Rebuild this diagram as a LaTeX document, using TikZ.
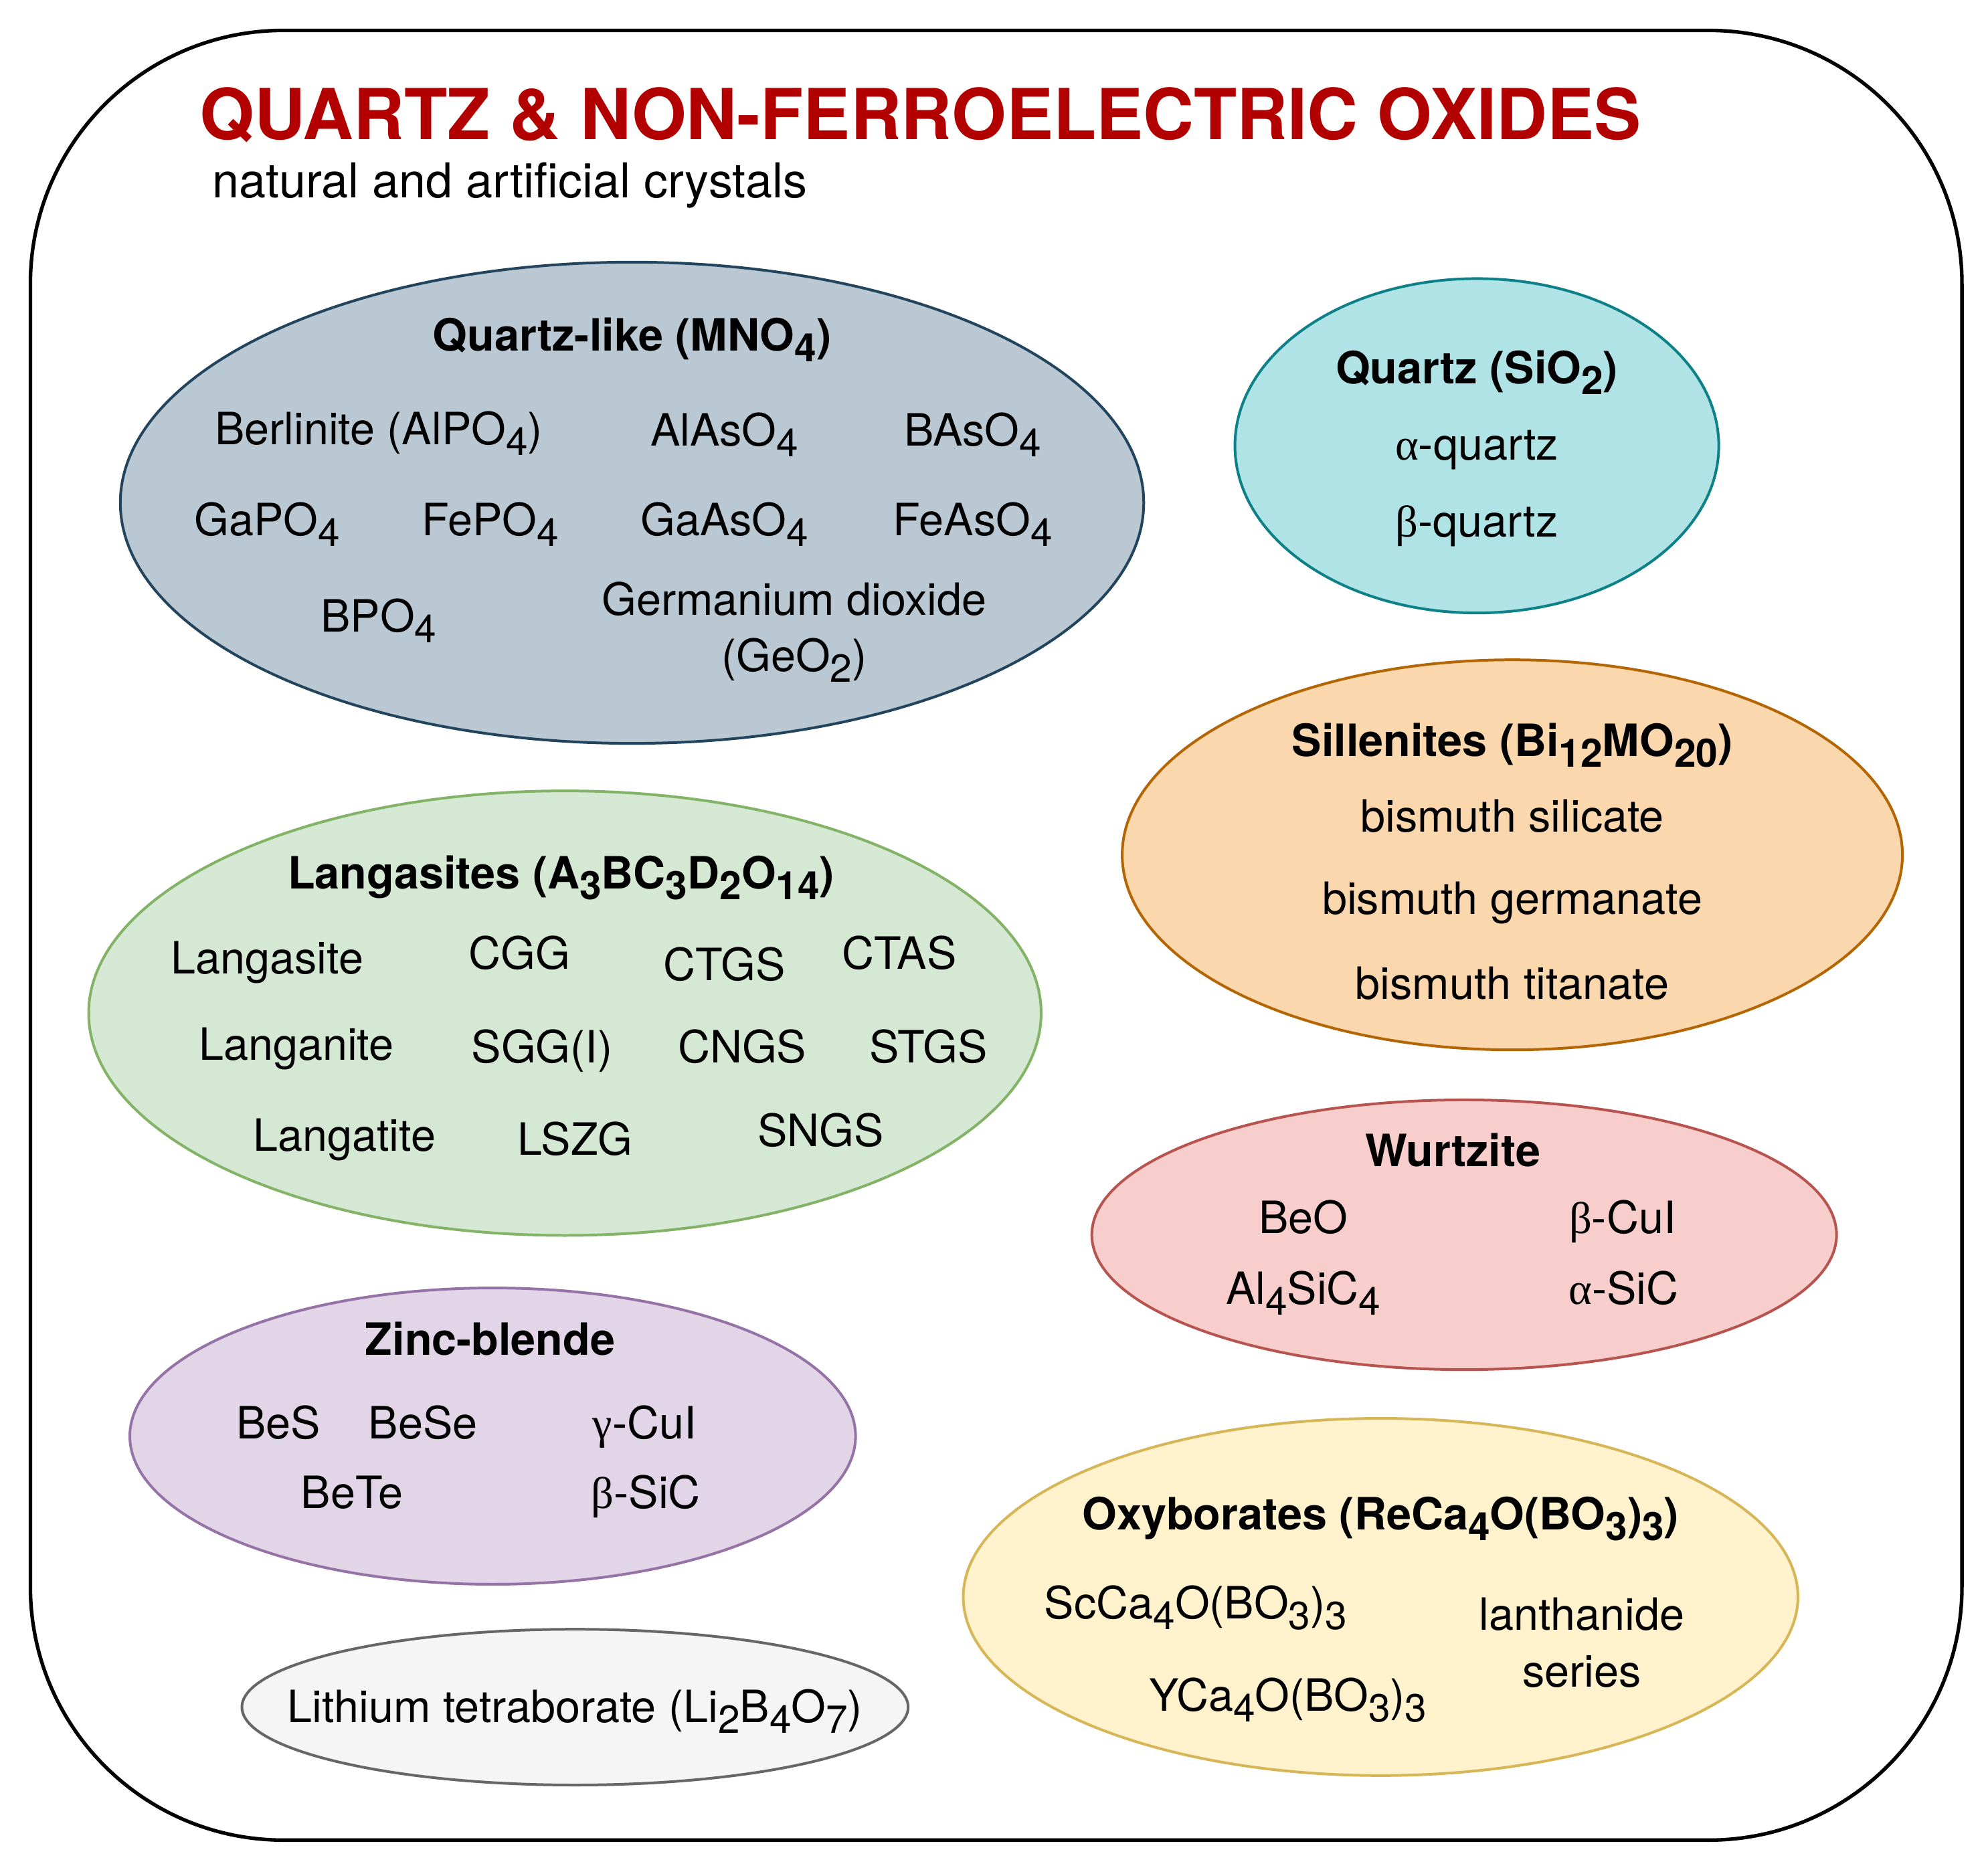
\documentclass[tikz,border=0pt]{standalone}
\usepackage{fontspec}
\setmainfont{TeX Gyre Heros}
\newfontfamily\grk{Liberation Serif}
\usepackage{tikz}
\usetikzlibrary{shapes.geometric}

\definecolor{titlered}{HTML}{B20000}
\definecolor{qlfill}{HTML}{BAC8D3}\definecolor{qlline}{HTML}{23445D}
\definecolor{qzfill}{HTML}{B0E3E6}\definecolor{qzline}{HTML}{0E8088}
\definecolor{slfill}{HTML}{FAD7AC}\definecolor{slline}{HTML}{B46504}
\definecolor{lgfill}{HTML}{D5E8D4}\definecolor{lgline}{HTML}{82B366}
\definecolor{wzfill}{HTML}{F8CECC}\definecolor{wzline}{HTML}{B85450}
\definecolor{zbfill}{HTML}{E1D5E7}\definecolor{zbline}{HTML}{9673A6}
\definecolor{oxfill}{HTML}{FFF2CC}\definecolor{oxline}{HTML}{D6B656}
\definecolor{ltfill}{HTML}{F5F5F5}\definecolor{ltline}{HTML}{666666}

\newcommand{\sub}[1]{\raisebox{-2.4pt}{\fontsize{8.8}{10}\selectfont #1}}

\tikzset{
	group/.style={ellipse, draw, line width=0.6pt, inner sep=0pt},
	head/.style={anchor=base, font=\fontsize{10}{12.7}\selectfont\bfseries},
	item/.style={anchor=base},
	twoline/.style={align=center},
}

\begin{document}
\begin{tikzpicture}[x=1cm, y=-1cm, font=\fontsize{10}{12.7}\selectfont]
		%%%%% START %%%%%
		\useasboundingbox (0, 0) rectangle (15.68, 14.81);
		
		\draw[line width=0.8pt, rounded corners=2cm] (0.24, 0.24) rectangle (15.49, 14.53);
		
		\node[anchor=base west, inner sep=0pt, text=titlered, font=\fontsize{15.8}{19}\selectfont\bfseries] (title) at (1.57, 1.10) {QUARTZ \& NON-FERROELECTRIC OXIDES};
		\node[anchor=base west, inner sep=0pt, font=\fontsize{10.8}{13}\selectfont] (subtitle) at (1.67, 1.56) {natural and artificial crystals};
		
		% quartz-like
		\node[group, fill=qlfill, draw=qlline, minimum width=8.08cm, minimum height=3.80cm] (quartzlike) at (4.99, 3.97) {};
		\node[head] (qlhead) at (4.99, 2.77) {Quartz-like (MNO\sub{4})};
		\node[item] (berlinite) at (2.99, 3.51) {Berlinite (AlPO\sub{4})};
		\node[item] (alaso) at (5.72, 3.52) {AlAsO\sub{4}};
		\node[item] (baso) at (7.68, 3.52) {BAsO\sub{4}};
		\node[item] (gapo) at (2.11, 4.23) {GaPO\sub{4}};
		\node[item] (fepo) at (3.87, 4.23) {FePO\sub{4}};
		\node[item] (gaaso) at (5.72, 4.23) {GaAsO\sub{4}};
		\node[item] (feaso) at (7.68, 4.23) {FeAsO\sub{4}};
		\node[item] (bpo) at (2.99, 4.99) {BPO\sub{4}};
		\node[twoline] (geo) at (6.27, 4.99) {Germanium dioxide\\(GeO\sub{2})};
		
		% quartz
		\node[group, fill=qzfill, draw=qzline, minimum width=3.82cm, minimum height=2.64cm] (quartz) at (11.66, 3.52) {};
		\node[head] (qzhead) at (11.66, 3.03) {Quartz (SiO\sub{2})};
		\node[item] (aquartz) at (11.66, 3.63) {{\grk α}-quartz};
		\node[item] (bquartz) at (11.66, 4.24) {{\grk β}-quartz};
		
		% sillenites
		\node[group, fill=slfill, draw=slline, minimum width=6.16cm, minimum height=3.08cm] (sillenites) at (11.94, 6.75) {};
		\node[head] (slhead) at (11.94, 5.97) {Sillenites (Bi\sub{12}MO\sub{20})};
		\node[item] (bisil) at (11.94, 6.57) {bismuth silicate};
		\node[item] (biger) at (11.94, 7.22) {bismuth germanate};
		\node[item] (bitit) at (11.94, 7.89) {bismuth titanate};
		
		% langasites
		\node[group, fill=lgfill, draw=lgline, minimum width=7.52cm, minimum height=3.51cm] (langasites) at (4.46, 8.00) {};
		\node[head] (lghead) at (4.43, 7.02) {Langasites (A\sub{3}BC\sub{3}D\sub{2}O\sub{14})};
		\node[item] (langasite) at (2.11, 7.69) {Langasite};
		\node[item] (cgg) at (4.10, 7.65) {CGG};
		\node[item] (ctgs) at (5.72, 7.74) {CTGS};
		\node[item] (ctas) at (7.10, 7.65) {CTAS};
		\node[item] (langanite) at (2.34, 8.37) {Langanite};
		\node[item] (sgg) at (4.28, 8.39) {SGG(I)};
		\node[item] (cngs) at (5.86, 8.39) {CNGS};
		\node[item] (stgs) at (7.33, 8.39) {STGS};
		\node[item] (langatite) at (2.72, 9.09) {Langatite};
		\node[item] (lszg) at (4.54, 9.12) {LSZG};
		\node[item] (sngs) at (6.48, 9.05) {SNGS};
		
		% wurtzite
		\node[group, fill=wzfill, draw=wzline, minimum width=5.88cm, minimum height=2.13cm] (wurtzite) at (11.56, 9.75) {};
		\node[head] (wzhead) at (11.47, 9.21) {Wurtzite};
		\node[item] (beo) at (10.29, 9.74) {BeO};
		\node[item] (bcui) at (12.81, 9.74) {{\grk β}-CuI};
		\node[item] (alsic) at (10.29, 10.30) {Al\sub{4}SiC\sub{4}};
		\node[item] (asic) at (12.82, 10.30) {{\grk α}-SiC};
		
		% zinc-blende
		\node[group, fill=zbfill, draw=zbline, minimum width=5.73cm, minimum height=2.34cm] (zincblende) at (3.89, 11.34) {};
		\node[head] (zbhead) at (3.87, 10.70) {Zinc-blende};
		\node[item] (bes) at (2.20, 11.36) {BeS};
		\node[item] (bese) at (3.34, 11.36) {BeSe};
		\node[item] (gcui) at (5.09, 11.36) {{\grk γ}-CuI};
		\node[item] (bete) at (2.78, 11.91) {BeTe};
		\node[item] (bsic) at (5.10, 11.91) {{\grk β}-SiC};
		
		% oxyborates
		\node[group, fill=oxfill, draw=oxline, minimum width=6.59cm, minimum height=2.82cm] (oxyborates) at (10.90, 12.61) {};
		\node[head] (oxhead) at (10.90, 12.08) {Oxyborates (ReCa\sub{4}O(BO\sub{3})\sub{3})};
		\node[item] (scca) at (9.44, 12.78) {ScCa\sub{4}O(BO\sub{3})\sub{3}};
		\node[item] (yca) at (10.17, 13.51) {YCa\sub{4}O(BO\sub{3})\sub{3}};
		\node[twoline] (lanth) at (12.49, 12.97) {lanthanide\\series};
		
		% lithium tetraborate
		\node[group, fill=ltfill, draw=ltline, minimum width=5.26cm, minimum height=1.23cm] (lithium) at (4.54, 13.48) {};
		\node[item] (ltb) at (4.54, 13.60) {Lithium tetraborate (Li\sub{2}B\sub{4}O\sub{7})};
		
		%%%%% END %%%%%
\end{tikzpicture}
\end{document}
